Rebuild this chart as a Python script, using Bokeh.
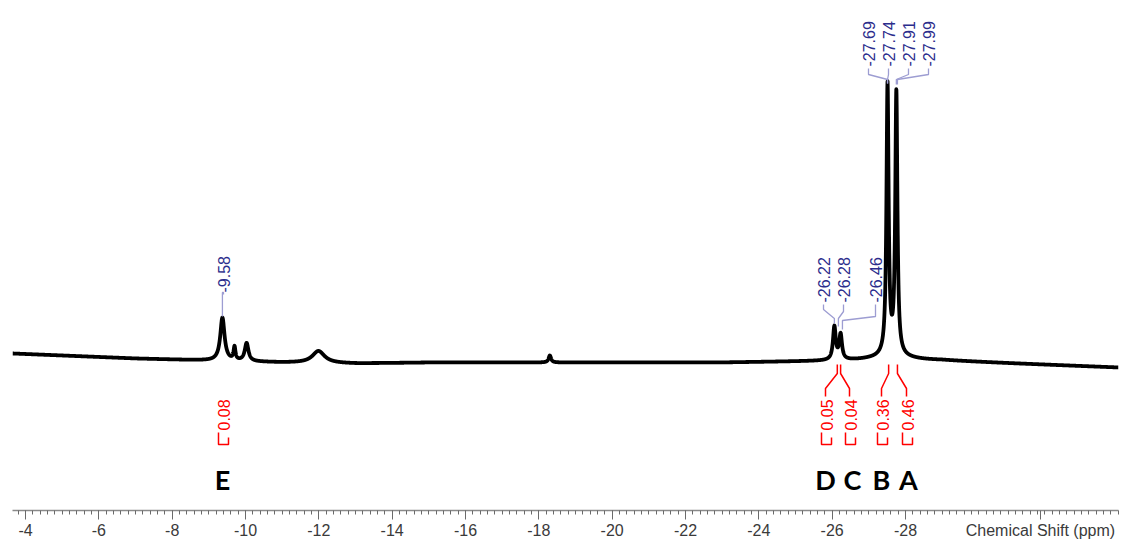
import numpy as np
from bokeh.plotting import figure
from bokeh.models import Range1d, LinearAxis, FixedTicker
from bokeh.core.properties import value
from bokeh.embed import file_html
from bokeh.resources import INLINE

# ---- spectrum data -------------------------------------------------------
# slowly drifting baseline (ppm on the axis, intensity)
baseline_ppm = [-3.65, -5.0, -7.0, -9.0, -11.0, -13.0, -15.0, -17.0, -19.0,
                -21.0, -23.0, -25.0, -27.0, -29.0, -31.0, -33.8]
baseline_int = [7, 5, 2, 0, -2, -3, -2, -2, -2, -2, -2, -1, 0, 0, -3, -7]

# resonances: centre (ppm on the axis), height, half width at half height (ppm)
peak_ppm = [-9.37, -9.70, -10.03, -11.99, -18.30, -26.06, -26.23,
            -27.51, -27.75, -27.63]
peak_height = [43, 13, 18, 12, 7, 33, 25, 270, 262, 4]
peak_width = [0.07, 0.03, 0.06, 0.20, 0.04, 0.045, 0.045, 0.035, 0.035, 0.6]

# picked-peak labels and the resonance each one points at
shift_text = ["-9.58", "-26.22", "-26.28", "-26.46",
              "-27.69", "-27.74", "-27.91", "-27.99"]
shift_target = [-9.37, -26.06, -26.17, -26.28, -27.51, -27.51, -27.75, -27.78]

# integrals
integral_text = ["0.08", "0.05", "0.04", "0.36", "0.46"]
integral_target = [None, -26.14, -26.23, -27.54, -27.78]

# signal assignments
assign_text = ["E", "D", "C", "B", "A"]

# axis
tick_values = [-4, -6, -8, -10, -12, -14, -16, -18, -20, -22, -24, -26, -28]
axis_title = "Chemical Shift (ppm)"

# ---- geometry -----------------------------------------------------------
W, H = 1121, 542
LEFT, RIGHT, BOTTOM = 12, 3, 32
X0, X1 = -3.645, -33.809
Y0, Y1 = -150, 360
frame_w = W - LEFT - RIGHT
frame_h = H - BOTTOM
PPM_PX = (X1 - X0) / frame_w          # ppm per screen pixel (negative)


def sx(px):
    """screen x inside the figure -> ppm"""
    return X0 + (px - LEFT) * PPM_PX


def sy(py):
    """screen y (from top) -> intensity"""
    return Y1 - py * (Y1 - Y0) / frame_h


# ---- build the trace ----------------------------------------------------
ppm = np.linspace(X0, X1, 9000)
trace = np.interp(ppm[::-1], baseline_ppm[::-1], baseline_int[::-1])[::-1]
for c, h, w in zip(peak_ppm, peak_height, peak_width):
    trace = trace + h / (1.0 + ((ppm - c) / w) ** 2)

p = figure(width=W, height=H, output_backend="svg", toolbar_location=None,
           x_range=Range1d(X0, X1), y_range=Range1d(Y0, Y1),
           x_axis_location=None, y_axis_location=None,
           min_border_left=LEFT, min_border_right=RIGHT,
           min_border_top=0, min_border_bottom=BOTTOM)
p.outline_line_color = None
p.xgrid.visible = False
p.ygrid.visible = False
p.background_fill_color = "white"
p.border_fill_color = "white"

p.line(ppm, trace, line_color="black", line_width=3.8, line_join="round")

# ---- axis ---------------------------------------------------------------
title_pos = round(sx(1040), 2)       # the axis title sits in the label row
major = [float(v) for v in tick_values] + [title_pos]
minor = [round(-3.8 - 0.2 * i, 1) for i in range(151)]
ax = LinearAxis(ticker=FixedTicker(ticks=major, minor_ticks=minor))
ax.axis_line_color = "#8a8a8a"
ax.axis_line_width = 1.5
ax.major_tick_line_color = "#6a6a6a"
ax.minor_tick_line_color = "#6a6a6a"
ax.major_tick_out = 9
ax.major_tick_in = 0
ax.minor_tick_out = 4
ax.minor_tick_in = 0
ax.major_label_text_font = "Liberation Sans"
ax.major_label_text_font_size = "16px"
ax.major_label_text_color = "#3a3a3a"
ax.major_label_standoff = 2
overrides = {float(v): "%g" % v for v in tick_values}
overrides[title_pos] = axis_title
ax.major_label_overrides = overrides
p.add_layout(ax, "below")

# ---- picked peak labels -------------------------------------------------
blue = "#2b2d8c"
lilac = "#9d9dd2"
label_px = [223, 823, 843, 875, 868, 888, 908, 928]
text_bottom = [292, 302, 302, 302, 66, 66, 66, 66]
bends = [(292, 292, 316), (309, 318, 323), (311, 318, 326), (316, 320, 329),
         (74, 79, 83), (74, 79, 83), (74, 79, 84), (74, 79, 84)]
xs, ys = [], []
for lp, tb, tgt, (b1, b2, end), t in zip(label_px, text_bottom, shift_target,
                                         bends, shift_text):
    lx = sx(lp)
    xs.append([lx, lx, tgt, tgt])
    ys.append([sy(tb + 2), sy(b1), sy(b2), sy(end)])
    p.text(x=[lx], y=[sy(tb)], text=[t], angle=np.pi / 2, text_align="left",
           text_baseline="middle", text_color=blue,
           text_font=value("Liberation Sans"), text_font_size="16px")
p.multi_line(xs, ys, line_color=lilac, line_width=1.3)

# ---- integrals ----------------------------------------------------------
red = "#ff0000"
int_px = [223, 826, 850, 882, 907]
ixs, iys = [], []
for ip, tgt, t in zip(int_px, integral_target, integral_text):
    lx = sx(ip)
    p.text(x=[lx], y=[sy(430)], text=[t], angle=np.pi / 2, text_align="left",
           text_baseline="middle", text_color=red,
           text_font=value("Liberation Sans"), text_font_size="16px")
    # bracket under each value
    ixs.append([lx - 5 * PPM_PX, lx - 5 * PPM_PX, lx + 5 * PPM_PX,
                lx + 5 * PPM_PX])
    iys.append([sy(432), sy(444), sy(444), sy(437)])
    if tgt is not None:
        ixs.append([tgt, tgt, lx - 1 * PPM_PX, lx - 1 * PPM_PX])
        iys.append([sy(364), sy(373), sy(388), sy(396)])
p.multi_line(ixs, iys, line_color=red, line_width=1.5)

# ---- assignments --------------------------------------------------------
assign_px = [222, 825, 852, 881, 908]
p.text(x=[sx(v) for v in assign_px], y=[sy(479)] * 5, text=assign_text,
       text_align="center", text_baseline="middle", text_color="black",
       text_font=value("Lato"), text_font_style="bold", text_font_size="27px")

open("out.html", "w").write(file_html(p, INLINE))
